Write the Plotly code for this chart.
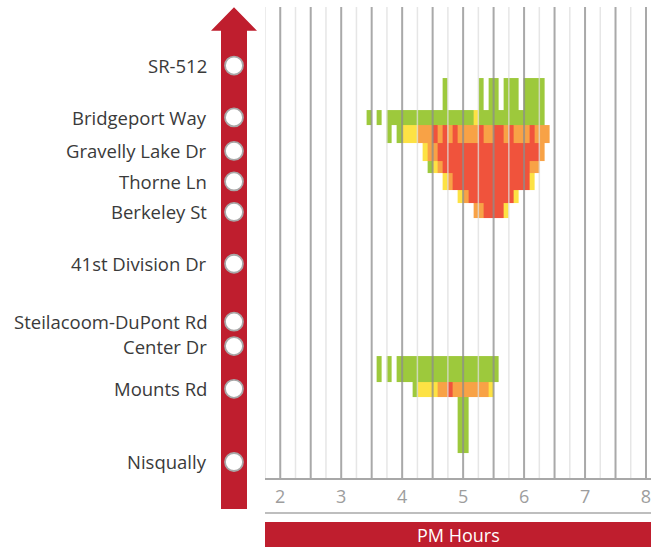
import plotly.graph_objects as go

# ---------------- data ----------------
# interchanges (name, milepost)
locations = ["SR-512", "Bridgeport Way", "Gravelly Lake Dr", "Thorne Ln", "Berkeley St",
             "41st Division Dr", "Steilacoom-DuPont Rd", "Center Dr", "Mounts Rd", "Nisqually"]
mileposts = [127.0, 125.3, 124.2, 123.2, 122.2, 120.5, 118.6, 117.8, 116.4, 114.0]

# hour ticks (PM)
hour_ticks = [2, 3, 4, 5, 6, 7, 8]
hour_labels = ["2", "3", "4", "5", "6", "7", "8"]

# time bins: 5-minute intervals starting 3:25 PM (36 bins, to 6:25 PM)
first_bin_min = 85          # minutes after 2 PM
bin_min = 5
n_bins = 36

# milepost edges of each congestion segment (bottom -> top)
segment_edges = [114.29, 116.14, 116.63, 117.48, 122.01, 122.48, 122.92,
                 123.47, 123.88, 124.47, 125.05, 125.54, 126.59]

# congestion level per 5-min bin: . none, G light, Y moderate, O heavy, R severe
seg_L3 = "." * 18 + "GG" + "." * 16
seg_L2 = "." * 9 + "G" + "YYYY" + "OO" + "R" + "O" * 7 + "Y" + "." * 11
seg_L1 = ".." + "G" + "." + "G" + "." + "G" * 20 + "." * 10
seg_gap = "." * 36
seg_H = "." * 21 + "OO" + "RRRR" + "Y" + "." * 8
seg_G = "." * 18 + "YO" + "R" * 9 + "Y" + "." * 6
seg_F = "." * 15 + "YO" + "R" * 15 + "Y" + "..."
seg_E = "." * 12 + "GYO" + "R" * 17 + "OO" + ".."
seg_D = "." * 11 + "Y" + "OO" + "R" * 20 + "O" + "."
seg_C = ("...." + "G" + "." + "G" + "YYY" + "OOO" + "R" + "O" + "R" + "O" + "R" + "OOOO" + "R"
         + "OO" + "RR" + "O" + "R" + "OOO" + "R" + "OOO")
seg_B = "G.G." + "G" * 17 + "Y" + "G" * 13 + "."
seg_A = "." * 15 + "G" + "." * 6 + "G" + "." + "GG" + "." + "GGG" + "." + "GGGG" + "."

segments = [seg_L3, seg_L2, seg_L1, seg_gap, seg_H, seg_G, seg_F, seg_E, seg_D, seg_C, seg_B, seg_A]

level_code = {".": None, "G": 1, "Y": 2, "O": 3, "R": 4}
level_colors = ["#9dc93c", "#fde244", "#f8a246", "#f0533c"]

# grid (every 30 min dark, 15-min offsets light)
major_grid = [2.0 + 0.5 * i for i in range(13)]
minor_grid = [1.75 + 0.5 * i for i in range(13)]

RED = "#bf1e2e"

# ---------------- build ----------------
x_edges = [2 + (first_bin_min + bin_min * i) / 60 for i in range(n_bins + 1)]
z = [[level_code[c] for c in row] for row in segments]

cs = []
for i, c in enumerate(level_colors):
    cs.append([i / 4, c])
    cs.append([(i + 1) / 4, c])

fig = go.Figure()
fig.add_trace(go.Heatmap(
    x=x_edges, y=segment_edges, z=z,
    colorscale=cs, zmin=0.5, zmax=4.5, showscale=False,
    hoverinfo="skip", xgap=0, ygap=0,
    xaxis="x", yaxis="y",
))

# circles on the road arrow
fig.add_trace(go.Scatter(
    x=[0] * len(mileposts), y=mileposts, mode="markers",
    marker=dict(size=18, color="white", line=dict(color="#a8a8a8", width=1.8)),
    xaxis="x2", yaxis="y", cliponaxis=False, hoverinfo="skip", showlegend=False,
))

shapes = []
# road arrow
shapes.append(dict(
    type="path", xref="x2", yref="paper", layer="below",
    path="M -0.565,-0.0658 L -0.565,0.9497 L -1,0.9497 L 0,0.9994 L 1,0.9497 "
         "L 0.565,0.9497 L 0.565,-0.0658 Z",
    fillcolor=RED, line=dict(width=0),
))
# grid lines over the cells
for gx in minor_grid:
    shapes.append(dict(type="line", xref="x", yref="paper", x0=gx, x1=gx, y0=0, y1=1,
                       layer="above", line=dict(color="rgba(222,222,222,0.75)", width=1.5)))
for gx in major_grid:
    shapes.append(dict(type="line", xref="x", yref="paper", x0=gx, x1=gx, y0=0, y1=1,
                       layer="above", line=dict(color="rgba(140,140,140,0.75)", width=2)))
# line below tick labels and red title bar
shapes.append(dict(type="line", xref="x domain", yref="paper", x0=0, x1=1,
                   y0=-0.0743, y1=-0.0743, line=dict(color="#a8a8a8", width=1.5)))
shapes.append(dict(type="rect", xref="x domain", yref="paper", x0=0, x1=1,
                   y0=-0.1465, y1=-0.0934, fillcolor=RED, line=dict(width=0)))

annotations = []
for name, mp in zip(locations, mileposts):
    annotations.append(dict(x=-1, y=mp, xref="x2", yref="y", text=name, showarrow=False,
                            xanchor="right", yanchor="middle", xshift=-2,
                            font=dict(family="Open Sans", size=18.5, color="#3a3a3a")))
annotations.append(dict(x=0.5, y=-0.12, xref="x domain", yref="paper", text="PM Hours",
                        showarrow=False, xanchor="center", yanchor="middle",
                        font=dict(family="Open Sans", size=18, color="white")))

W, H = 651, 548
fig.update_layout(
    width=W, height=H,
    margin=dict(l=0, r=0, t=7, b=70),
    paper_bgcolor="white", plot_bgcolor="rgba(0,0,0,0)",
    showlegend=False,
    shapes=shapes, annotations=annotations,
    xaxis=dict(domain=[265 / W, 1], range=[1.75, 2 + (651 - 280) / 61],
               tickvals=hour_ticks, ticktext=hour_labels, ticks="",
               showgrid=False, zeroline=False, showline=True,
               linecolor="#a8a8a8", linewidth=1.5, fixedrange=True,
               tickfont=dict(family="Open Sans", size=18, color="#9d9d9d"),
               ticklabelstandoff=2, ticklabeloverflow="allow"),
    xaxis2=dict(domain=[0, 265 / W], range=[-234 / 23, 31 / 23], visible=False,
                anchor="y", fixedrange=True),
    yaxis=dict(range=[113.475, 128.92], visible=False, fixedrange=True),
)

fig.write_html("out.html", config={"displayModeBar": False, "staticPlot": True},
               post_script="document.body.style.margin='0px';")
